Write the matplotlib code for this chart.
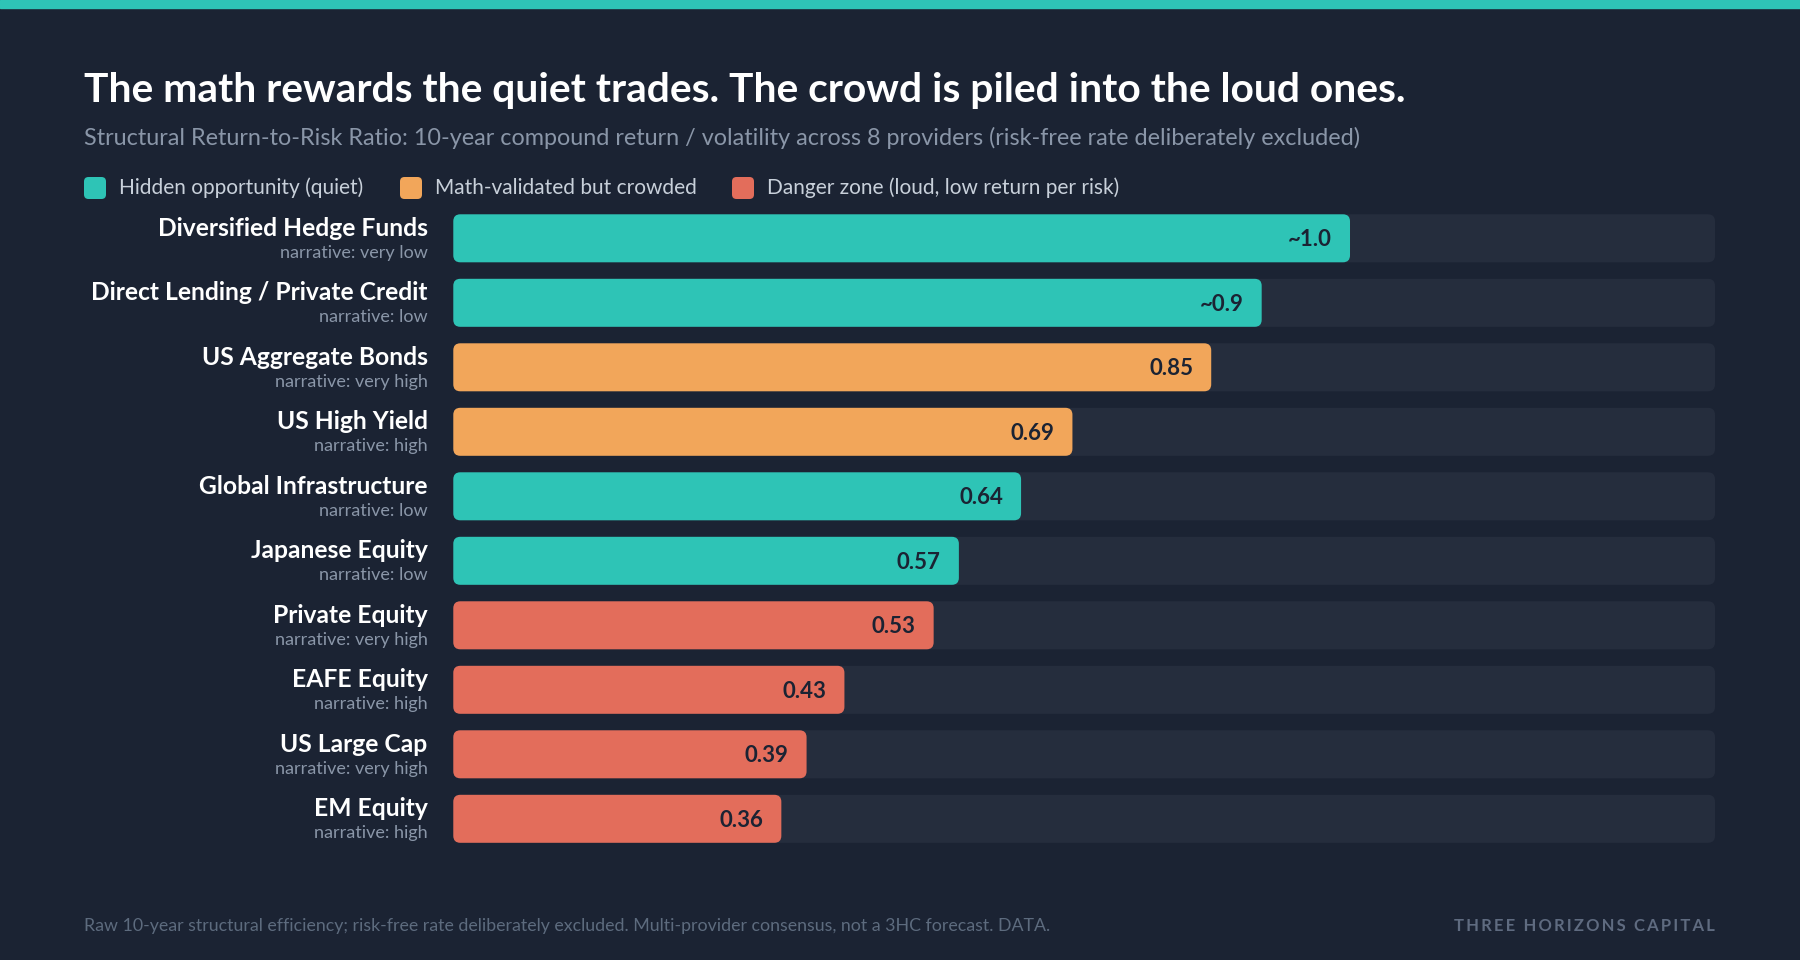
import matplotlib
matplotlib.use("Agg")
import matplotlib.pyplot as plt
from matplotlib.patches import FancyBboxPatch

plt.rcParams['font.family'] = ['Lato', 'DejaVu Sans']

# data
categories = ["Diversified Hedge Funds", "Direct Lending / Private Credit", "US Aggregate Bonds",
              "US High Yield", "Global Infrastructure", "Japanese Equity", "Private Equity",
              "EAFE Equity", "US Large Cap", "EM Equity"]
narrative = ["very low", "low", "very high", "high", "low", "low", "very high", "high", "very high", "high"]
ratios = [0.995, 0.897, 0.841, 0.687, 0.63, 0.561, 0.533, 0.434, 0.392, 0.364]
value_labels = ["~1.0", "~0.9", "0.85", "0.69", "0.64", "0.57", "0.53", "0.43", "0.39", "0.36"]
groups = ["quiet", "quiet", "crowded", "crowded", "quiet", "quiet", "danger", "danger", "danger", "danger"]
legend_labels = ["Hidden opportunity (quiet)", "Math-validated but crowded", "Danger zone (loud, low return per risk)"]
x_max = 1.4

BG = "#1b2333"
TRACK = "#252d3d"
colors = {"quiet": "#2ec4b6", "crowded": "#f2a65a", "danger": "#e36d5b"}
legend_keys = ["quiet", "crowded", "danger"]

W, H = 1800, 960
fig = plt.figure(figsize=(18, 9.6), dpi=100, facecolor=BG)

# top stripe
fig.patches.append(plt.Rectangle((0, 1 - 8 / H), 1, 8 / H, transform=fig.transFigure,
                                 color="#2ec4b6", zorder=0))

fig.text(84 / W, 1 - 102 / H, "The math rewards the quiet trades. The crowd is piled into the loud ones.",
         color="white", fontsize=29.3, fontweight="bold", va="baseline", ha="left")
fig.text(84 / W, 1 - 138 / H,
         "Structural Return-to-Risk Ratio: 10-year compound return / volatility across 8 providers (risk-free rate deliberately excluded)",
         color="#8a96a8", fontsize=16.8, va="center", ha="left")

# legend
leg_x = [84, 400, 732]
leg_y = 188
for lx, key, lab in zip(leg_x, legend_keys, legend_labels):
    sq = 22
    fig.patches.append(FancyBboxPatch((lx / W, 1 - (leg_y + sq / 2) / H), sq / W, sq / H,
                                      boxstyle="round,pad=0,rounding_size=0.0025",
                                      mutation_aspect=W / H,
                                      transform=fig.transFigure, facecolor=colors[key],
                                      edgecolor="none"))
    fig.text((lx + 35) / W, 1 - leg_y / H, lab, color="#c8d0da", fontsize=15,
             va="center", ha="left")

# bars
row_h = 64.5
top_px = 238.3 - row_h / 2
n = len(categories)
x0, x1 = 453.3, 1715
ax = fig.add_axes([x0 / W, 1 - (top_px + n * row_h) / H, (x1 - x0) / W, n * row_h / H])
ax.set_facecolor("none")
ax.set_xlim(0, x_max)
ax.set_ylim(n - 0.5, -0.5)
ax.axis("off")

px_per_x = (x1 - x0) / x_max
aspect = px_per_x / row_h
r = 7 / px_per_x
bh = 48 / row_h

for i, (cat, nar, v, vl, g) in enumerate(zip(categories, narrative, ratios, value_labels, groups)):
    ax.add_patch(FancyBboxPatch((0, i - bh / 2), x_max, bh,
                                boxstyle=f"round,pad=0,rounding_size={r}",
                                mutation_aspect=aspect, facecolor=TRACK, edgecolor="none"))
    ax.add_patch(FancyBboxPatch((0, i - bh / 2), v, bh,
                                boxstyle=f"round,pad=0,rounding_size={r}",
                                mutation_aspect=aspect, facecolor=colors[g], edgecolor="none"))
    ax.annotate(vl, xy=(v, i), xytext=(-13, -1.2), textcoords="offset points",
                ha="right", va="center", color=BG, fontsize=16, fontweight="bold")
    ax.annotate(cat, xy=(0, i), xytext=(-18.4, 7.2), textcoords="offset points",
                ha="right", va="center", color="white", fontsize=17.7, fontweight="bold",
                annotation_clip=False)
    ax.annotate("narrative: " + nar, xy=(0, i), xytext=(-18.4, -10.5), textcoords="offset points",
                ha="right", va="center", color="#8a96a8", fontsize=13,
                annotation_clip=False)

# footer
fig.text(84 / W, 1 - 926 / H,
         "Raw 10-year structural efficiency; risk-free rate deliberately excluded. Multi-provider consensus, not a 3HC forecast. DATA.",
         color="#5d6b7e", fontsize=12.8, va="center", ha="left")
fig.text(1715 / W, 1 - 926 / H, "\u2009".join("THREE HORIZONS CAPITAL"),
         color="#5f6b80", fontsize=12, fontweight="bold", va="center", ha="right")

fig.savefig("out.png", dpi=100, facecolor=BG)
